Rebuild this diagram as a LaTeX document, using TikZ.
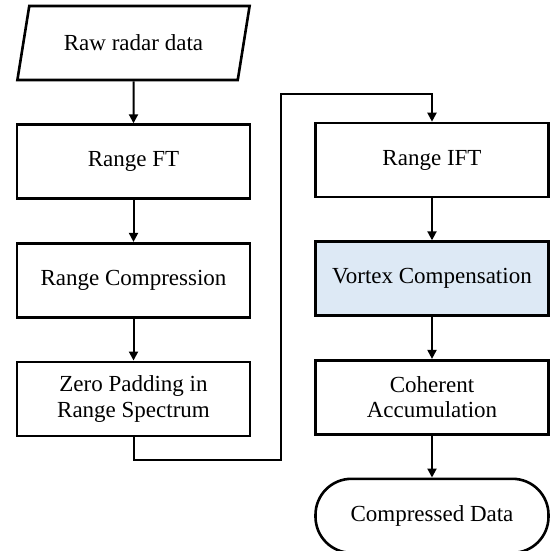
\documentclass[tikz,border=0pt]{standalone}
\usepackage{fontspec}
\setmainfont{Liberation Serif}
\usetikzlibrary{positioning,arrows.meta,shapes.geometric}
\definecolor{vortexblue}{RGB}{221,233,245}

\begin{document}
\begin{tikzpicture}[
    >={Triangle[length=4.5pt,width=4.5pt]},
    stage/.style={draw, line width=1.3pt, fill=white, align=center, font=\fontsize{11.5}{12.7}\selectfont,
                  inner sep=1pt, minimum width=116.5pt, minimum height=37pt},
    io/.style={stage, trapezium, trapezium left angle=68, trapezium right angle=112, trapezium stretches=true},
    terminal/.style={stage, rounded corners=18pt},
    flow/.style={->, line width=1pt},
    node distance=21pt,
]
  \useasboundingbox (0,0) rectangle (276pt,-275.5pt);

  % ---------------- left column ----------------
  \node[io] (raw) at (66.75pt,-21.5pt) {Raw radar data};
  \node[stage, below=of raw] (rft) {Range FT};
  \node[stage, below=of rft] (rcomp) {Range Compression};
  \node[stage, below=of rcomp] (zpad) {Zero Padding in\\Range Spectrum};

  % ---------------- right column ----------------
  \node[stage] (rift) at (216pt,-80pt) {Range IFT};
  \node[stage, fill=vortexblue, below=of rift] (vortex) {Vortex Compensation};
  \node[stage, below=of vortex] (coh) {Coherent\\Accumulation};
  \node[terminal, below=of coh] (out) {Compressed Data};

  % ---------------- connectors ----------------
  \draw[flow] (raw) -- (rft);
  \draw[flow] (rft) -- (rcomp);
  \draw[flow] (rcomp) -- (zpad);
  % left column -> right column
  \coordinate (lowturn) at (140.5pt,-230pt);
  \coordinate (highturn) at (140.5pt,-47pt);
  \draw[flow] (zpad.south) |- (lowturn) -- (highturn) -| (rift.north);
  \draw[flow] (rift) -- (vortex);
  \draw[flow] (vortex) -- (coh);
  \draw[flow] (coh) -- (out);
\end{tikzpicture}
\end{document}
